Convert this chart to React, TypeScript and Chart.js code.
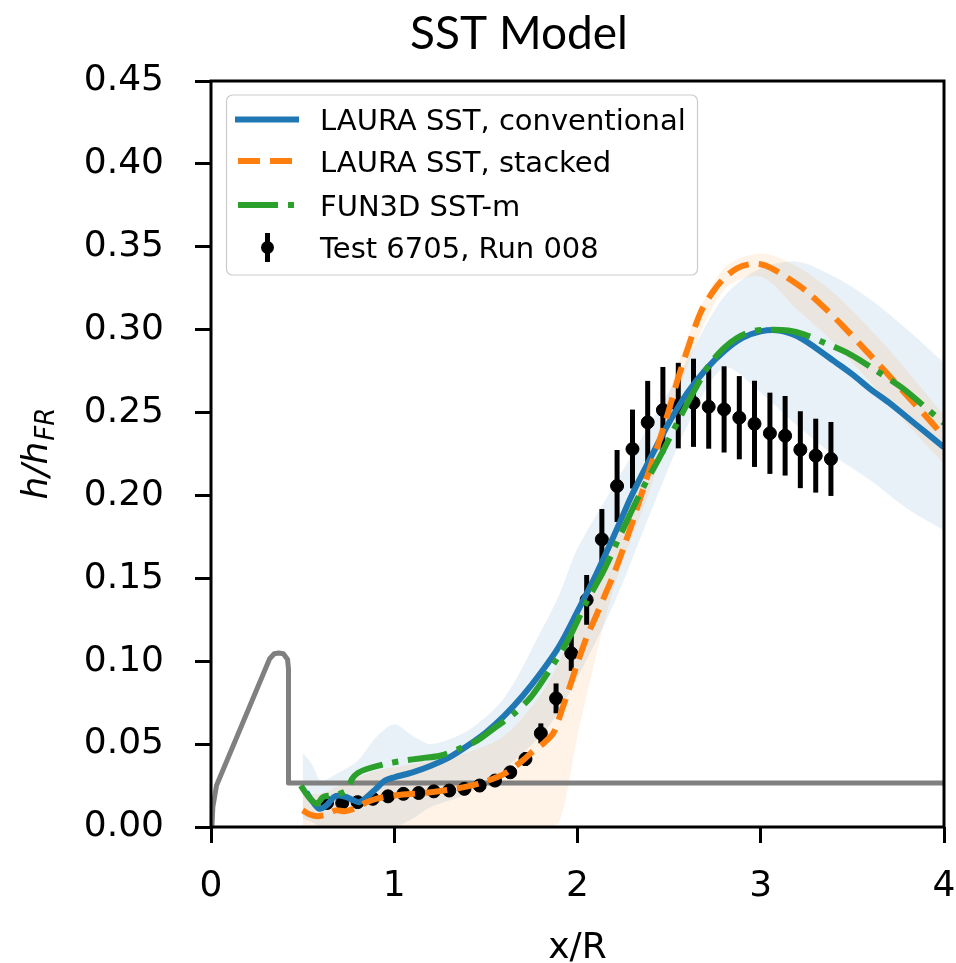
import React, { useEffect, useRef } from "react";
import { Chart, registerables } from "chart.js";

Chart.register(...registerables);

// ---------- data ----------
const chartTitle = "SST Model";
const xAxisTitle = "x/R";
const xTickValues = [0, 1, 2, 3, 4];
const xTickLabels = ["0", "1", "2", "3", "4"];
const yTickValues = [0, 0.05, 0.1, 0.15, 0.2, 0.25, 0.3, 0.35, 0.4, 0.45];
const yTickLabels = ["0.00", "0.05", "0.10", "0.15", "0.20", "0.25", "0.30", "0.35", "0.40", "0.45"];
const legendLabels = ["LAURA SST, conventional", "LAURA SST, stacked", "FUN3D SST-m", "Test 6705, Run 008"];

// LAURA SST, conventional
const blueX = [0.52, 0.55, 0.59, 0.63, 0.67, 0.70, 0.74, 0.78, 0.81, 0.85, 0.90, 0.95, 1.00, 1.10, 1.20, 1.30, 1.40, 1.50, 1.60, 1.70, 1.80, 1.90, 2.00, 2.10, 2.20, 2.30, 2.40, 2.50, 2.60, 2.70, 2.80, 2.90, 3.00, 3.10, 3.20, 3.30, 3.40, 3.50, 3.60, 3.70, 3.80, 3.90, 4.00];
const blueY = [0.021, 0.016, 0.011, 0.013, 0.018, 0.019, 0.018, 0.016, 0.015, 0.018, 0.023, 0.028, 0.030, 0.033, 0.037, 0.042, 0.049, 0.057, 0.067, 0.079, 0.093, 0.109, 0.130, 0.152, 0.176, 0.201, 0.223, 0.244, 0.262, 0.276, 0.287, 0.295, 0.299, 0.2995, 0.296, 0.289, 0.281, 0.273, 0.264, 0.256, 0.247, 0.238, 0.229];

// LAURA SST, stacked
const orangeX = [0.50, 0.54, 0.58, 0.63, 0.68, 0.73, 0.78, 0.84, 0.90, 1.00, 1.10, 1.20, 1.30, 1.40, 1.50, 1.60, 1.70, 1.76, 1.82, 1.87, 1.91, 1.95, 2.00, 2.05, 2.10, 2.15, 2.20, 2.25, 2.30, 2.35, 2.40, 2.45, 2.50, 2.55, 2.60, 2.67, 2.74, 2.80, 2.87, 2.94, 3.00, 3.06, 3.15, 3.24, 3.35, 3.45, 3.56, 3.67, 3.80, 3.90, 4.00];
const orangeY = [0.010, 0.0075, 0.0065, 0.0075, 0.0100, 0.0095, 0.011, 0.0145, 0.0170, 0.0190, 0.0200, 0.0210, 0.0225, 0.0245, 0.0275, 0.0320, 0.0400, 0.0460, 0.0510, 0.0570, 0.0690, 0.0820, 0.0990, 0.1145, 0.1270, 0.1400, 0.1530, 0.1680, 0.1840, 0.2010, 0.2180, 0.2340, 0.2520, 0.2710, 0.2880, 0.3100, 0.3230, 0.3310, 0.3370, 0.3395, 0.3395, 0.3370, 0.3310, 0.3240, 0.3130, 0.3020, 0.2890, 0.2760, 0.2600, 0.2480, 0.2355];

// FUN3D SST-m
const greenX = [0.49, 0.52, 0.55, 0.58, 0.61, 0.65, 0.70, 0.74, 0.77, 0.80, 0.85, 0.95, 1.05, 1.15, 1.25, 1.35, 1.45, 1.55, 1.65, 1.75, 1.85, 1.95, 2.05, 2.14, 2.25, 2.35, 2.45, 2.55, 2.63, 2.72, 2.80, 2.87, 2.95, 3.05, 3.15, 3.24, 3.35, 3.49, 3.62, 3.77, 3.90, 4.00];
const greenY = [0.025, 0.020, 0.016, 0.014, 0.018, 0.019, 0.020, 0.022, 0.029, 0.0325, 0.035, 0.038, 0.040, 0.0415, 0.043, 0.047, 0.052, 0.060, 0.068, 0.079, 0.095, 0.113, 0.136, 0.154, 0.180, 0.203, 0.2234, 0.245, 0.2617, 0.279, 0.289, 0.295, 0.299, 0.300, 0.2995, 0.297, 0.292, 0.285, 0.276, 0.265, 0.253, 0.2436];

// Test 6705, Run 008
const expX = [0.633, 0.716, 0.800, 0.883, 0.966, 1.050, 1.133, 1.216, 1.300, 1.383, 1.466, 1.550, 1.633, 1.716, 1.800, 1.883, 1.966, 2.050, 2.133, 2.216, 2.300, 2.383, 2.466, 2.550, 2.633, 2.716, 2.800, 2.883, 2.966, 3.050, 3.133, 3.216, 3.300, 3.383];
const expY = [0.0145, 0.0145, 0.0150, 0.0170, 0.0185, 0.0200, 0.0205, 0.0215, 0.0220, 0.0230, 0.0250, 0.0280, 0.0330, 0.0410, 0.0565, 0.0776, 0.1048, 0.1370, 0.1735, 0.2057, 0.2280, 0.2441, 0.2515, 0.2542, 0.2559, 0.2535, 0.2519, 0.2469, 0.2432, 0.2375, 0.2360, 0.2276, 0.2240, 0.2220];
const expErr = [0.0015, 0.0015, 0.0015, 0.0017, 0.0019, 0.0020, 0.0021, 0.0022, 0.0022, 0.0023, 0.0025, 0.0028, 0.0033, 0.0041, 0.0060, 0.0090, 0.0106, 0.0150, 0.0183, 0.0217, 0.0238, 0.0250, 0.0260, 0.0258, 0.0266, 0.0253, 0.0260, 0.0251, 0.0260, 0.0245, 0.0240, 0.0232, 0.0223, 0.0223];

// geometry profile (gray)
const geoX = [0.005, 0.010, 0.030, 0.320, 0.345, 0.370, 0.395, 0.418, 0.423, 0.423, 4.000];
const geoY = [0.000, 0.012, 0.025, 0.1015, 0.1045, 0.1050, 0.1045, 0.1010, 0.095, 0.0265, 0.0265];

// uncertainty bands
const bandX = [0.50, 0.55, 0.60, 0.70, 0.80, 0.90, 1.00, 1.10, 1.20, 1.40, 1.60, 1.80, 1.90, 2.00, 2.20, 2.40, 2.60, 2.80, 3.00, 3.20, 3.40, 3.60, 3.80, 4.00];
const blueBandUpper = [0.045, 0.038, 0.028, 0.033, 0.040, 0.054, 0.062, 0.055, 0.050, 0.058, 0.078, 0.118, 0.140, 0.168, 0.206, 0.244, 0.282, 0.320, 0.337, 0.341, 0.332, 0.318, 0.300, 0.280];
const blueBandLower = [0.005, 0.003, 0.000, 0.000, 0.000, 0.000, 0.000, 0.005, 0.012, 0.020, 0.035, 0.055, 0.070, 0.090, 0.135, 0.190, 0.242, 0.277, 0.262, 0.242, 0.224, 0.209, 0.192, 0.179];
const orangeBandUpper = [0.020, 0.020, 0.020, 0.025, 0.030, 0.034, 0.036, 0.038, 0.040, 0.045, 0.055, 0.080, 0.100, 0.125, 0.172, 0.225, 0.295, 0.337, 0.346, 0.338, 0.322, 0.300, 0.275, 0.248];
const orangeBandLower = [0.000, 0.000, 0.000, 0.000, 0.000, 0.000, 0.000, 0.000, 0.000, 0.000, 0.000, 0.000, 0.003, 0.055, 0.145, 0.205, 0.278, 0.324, 0.332, 0.312, 0.292, 0.268, 0.243, 0.219];

// ---------- styles ----------
const BLUE = "#1f77b4";
const ORANGE = "#ff7f0e";
const GREEN = "#2ca02c";
const GRAY = "#808080";
const LW = 6;
const ORANGE_DASH = [22, 10];
const GREEN_DASH = [40, 10, 6, 10];
const TICK_FONT = '"DejaVu Sans", sans-serif';

const pts = (xs: number[], ys: number[]) => xs.map((x, i) => ({ x, y: ys[i] }));

const EXP_INDEX = 3;

const overlayPlugin = {
  id: "overlay",
  beforeDatasetDraw(chart: any, args: any) {
    if (args.index !== EXP_INDEX) return;
    const { ctx, chartArea, scales } = chart;
    const xs = scales.x;
    const ys = scales.y;
    ctx.save();
    ctx.beginPath();
    ctx.rect(chartArea.left, chartArea.top, chartArea.right - chartArea.left, chartArea.bottom - chartArea.top);
    ctx.clip();
    ctx.strokeStyle = "#000";
    ctx.lineWidth = 5;
    ctx.lineCap = "butt";
    expX.forEach((xv, i) => {
      const px = xs.getPixelForValue(xv);
      ctx.beginPath();
      ctx.moveTo(px, ys.getPixelForValue(expY[i] - expErr[i]));
      ctx.lineTo(px, ys.getPixelForValue(expY[i] + expErr[i]));
      ctx.stroke();
    });
    ctx.restore();
  },
  afterDraw(chart: any) {
    const { ctx, chartArea } = chart;
    const { left, right, top, bottom } = chartArea;
    ctx.save();
    // spines
    ctx.strokeStyle = "#000";
    ctx.lineWidth = 3;
    ctx.setLineDash([]);
    ctx.strokeRect(left, top, right - left, bottom - top);

    // title
    ctx.fillStyle = "#000";
    ctx.font = '46px Lato, "Open Sans", sans-serif';
    ctx.textAlign = "center";
    ctx.textBaseline = "alphabetic";
    ctx.fillText(chartTitle, 519, 49);

    // x axis title
    ctx.font = `36px ${TICK_FONT}`;
    ctx.fillText(xAxisTitle, (left + right) / 2, 958);

    // y axis title: h/h_FR
    ctx.save();
    ctx.translate(47, (top + bottom) / 2);
    ctx.rotate(-Math.PI / 2);
    const mainFont = `italic 36px ${TICK_FONT}`;
    const subFont = `italic 26px ${TICK_FONT}`;
    ctx.font = mainFont;
    const wMain = ctx.measureText("h/h").width;
    ctx.font = subFont;
    const wSub = ctx.measureText("FR").width;
    const start = -(wMain + wSub) / 2;
    ctx.textAlign = "left";
    ctx.font = mainFont;
    ctx.fillText("h/h", start, 0);
    ctx.font = subFont;
    ctx.fillText("FR", start + wMain + 1, 6.5);
    ctx.restore();

    // legend
    const lx = 226.5, ly = 95, lw = 471, lh = 180;
    ctx.beginPath();
    ctx.roundRect(lx, ly, lw, lh, 6);
    ctx.fillStyle = "rgba(255,255,255,0.8)";
    ctx.fill();
    ctx.lineWidth = 1.2;
    ctx.strokeStyle = "#cccccc";
    ctx.stroke();

    const baselines = [130, 171.7, 215.7, 258.3];
    const handleY = [119.5, 161, 205, 247.5];
    const hx0 = 238, hx1 = 297;
    // blue
    ctx.lineWidth = LW;
    ctx.setLineDash([]);
    ctx.lineCap = "square";
    ctx.strokeStyle = BLUE;
    ctx.beginPath(); ctx.moveTo(hx0, handleY[0]); ctx.lineTo(hx1 - 1, handleY[0]); ctx.stroke();
    // orange
    ctx.lineCap = "butt";
    ctx.strokeStyle = ORANGE;
    ctx.setLineDash(ORANGE_DASH);
    ctx.beginPath(); ctx.moveTo(hx0, handleY[1]); ctx.lineTo(hx1, handleY[1]); ctx.stroke();
    // green
    ctx.strokeStyle = GREEN;
    ctx.setLineDash(GREEN_DASH);
    ctx.beginPath(); ctx.moveTo(hx0, handleY[2]); ctx.lineTo(hx1, handleY[2]); ctx.stroke();
    // errorbar
    ctx.setLineDash([]);
    ctx.strokeStyle = "#000";
    ctx.lineWidth = 5;
    const ex = (hx0 + hx1) / 2;
    ctx.beginPath(); ctx.moveTo(ex, handleY[3] - 14.5); ctx.lineTo(ex, handleY[3] + 14.5); ctx.stroke();
    ctx.fillStyle = "#000";
    ctx.beginPath(); ctx.arc(ex, handleY[3], 6.5, 0, Math.PI * 2); ctx.fill();

    ctx.font = `29px ${TICK_FONT}`;
    ctx.textAlign = "left";
    ctx.textBaseline = "alphabetic";
    legendLabels.forEach((t, i) => ctx.fillText(t, 320, baselines[i]));
    ctx.restore();
  },
};

export default function App() {
  const canvasRef = useRef<HTMLCanvasElement | null>(null);

  useEffect(() => {
    const canvas = canvasRef.current;
    if (!canvas) return;
    const transparent = "rgba(0,0,0,0)";
    const chart = new Chart(canvas, {
      type: "line",
      data: {
        datasets: [
          {
            label: legendLabels[2],
            data: pts(greenX, greenY),
            borderColor: GREEN,
            borderWidth: LW,
            borderDash: GREEN_DASH,
            borderCapStyle: "butt",
            pointRadius: 0,
            fill: false,
            tension: 0.3,
            order: 0,
          },
          {
            label: legendLabels[1],
            data: pts(orangeX, orangeY),
            borderColor: ORANGE,
            borderWidth: LW,
            borderDash: ORANGE_DASH,
            borderCapStyle: "butt",
            pointRadius: 0,
            fill: false,
            tension: 0.3,
            order: 1,
          },
          {
            label: legendLabels[0],
            data: pts(blueX, blueY),
            borderColor: BLUE,
            borderWidth: LW,
            borderJoinStyle: "round",
            pointRadius: 0,
            fill: false,
            tension: 0.3,
            order: 2,
          },
          {
            label: legendLabels[3],
            data: pts(expX, expY),
            showLine: false,
            pointRadius: 6.5,
            pointBackgroundColor: "#000",
            pointBorderColor: "#000",
            pointBorderWidth: 1,
            fill: false,
            order: 3,
          },
          {
            label: "geometry",
            data: pts(geoX, geoY),
            borderColor: GRAY,
            borderWidth: 5,
            borderJoinStyle: "round",
            pointRadius: 0,
            fill: false,
            tension: 0,
            order: 4,
          },
          {
            label: "orange band",
            data: pts(bandX, orangeBandUpper),
            borderColor: transparent,
            borderWidth: 1,
            pointRadius: 0,
            backgroundColor: "rgba(255,127,14,0.1)",
            fill: 6,
            tension: 0.3,
            order: 5,
          },
          {
            label: "orange band lower",
            data: pts(bandX, orangeBandLower),
            borderColor: transparent,
            borderWidth: 1,
            pointRadius: 0,
            fill: false,
            tension: 0.3,
            order: 6,
          },
          {
            label: "blue band",
            data: pts(bandX, blueBandUpper),
            borderColor: transparent,
            borderWidth: 1,
            pointRadius: 0,
            backgroundColor: "rgba(31,119,180,0.1)",
            fill: 8,
            tension: 0.3,
            order: 7,
          },
          {
            label: "blue band lower",
            data: pts(bandX, blueBandLower),
            borderColor: transparent,
            borderWidth: 1,
            pointRadius: 0,
            fill: false,
            tension: 0.3,
            order: 8,
          },
        ],
      } as any,
      options: {
        responsive: false,
        animation: false,
        events: [],
        layout: { padding: { top: 81, right: 12, left: 0, bottom: 0 } },
        plugins: {
          legend: { display: false },
          title: { display: false },
          tooltip: { enabled: false },
        },
        scales: {
          x: {
            type: "linear",
            min: 0,
            max: 4,
            afterFit: (s: any) => { s.height = 136; s.paddingLeft = 0; s.paddingRight = 0; },
            afterBuildTicks: (s: any) => { s.ticks = xTickValues.map((v) => ({ value: v })); },
            ticks: {
              callback: (_v: any, i: number) => xTickLabels[i],
              font: { family: TICK_FONT, size: 36 },
              color: "#000",
              padding: 22,
              maxRotation: 0,
              autoSkip: false,
            },
            grid: { drawOnChartArea: false, drawTicks: true, tickLength: 16, tickWidth: 3, tickColor: "#000" },
            border: { display: false },
          },
          y: {
            type: "linear",
            min: 0,
            max: 0.45,
            afterFit: (s: any) => { s.width = 211; s.paddingTop = 0; s.paddingBottom = 0; },
            afterBuildTicks: (s: any) => { s.ticks = yTickValues.map((v) => ({ value: v })); },
            ticks: {
              callback: (_v: any, i: number) => yTickLabels[i],
              font: { family: TICK_FONT, size: 36 },
              color: "#000",
              padding: 31,
              autoSkip: false,
            },
            grid: { drawOnChartArea: false, drawTicks: true, tickLength: 16, tickWidth: 3, tickColor: "#000" },
            border: { display: false },
          },
        },
      } as any,
      plugins: [overlayPlugin],
    });
    return () => chart.destroy();
  }, []);

  return (
    <div style={{ position: "absolute", left: 0, top: 0, width: 956, height: 963, background: "#fff" }}>
      <canvas ref={canvasRef} width={956} height={963} style={{ width: 956, height: 963, display: "block" }} />
    </div>
  );
}
